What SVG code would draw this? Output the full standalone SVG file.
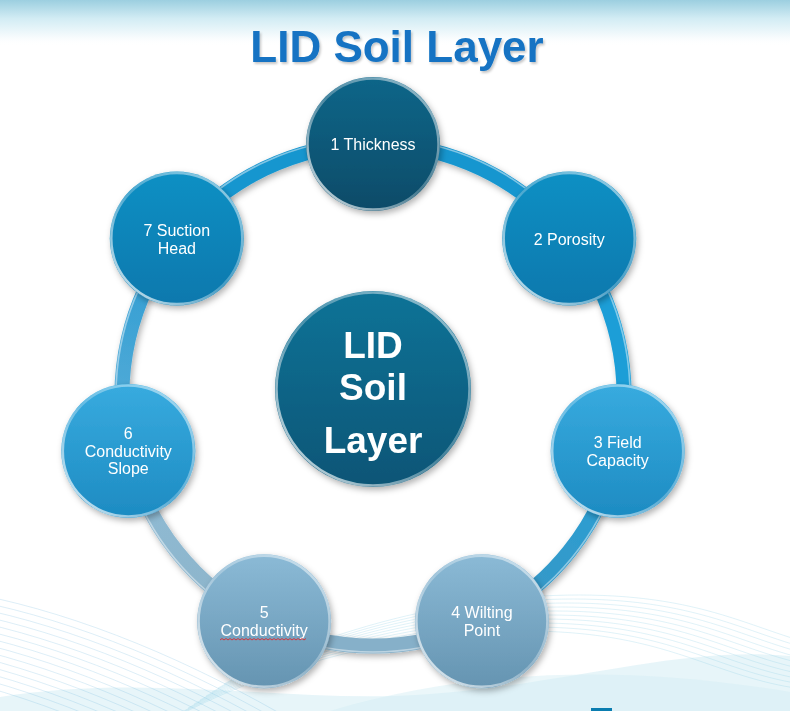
<svg xmlns="http://www.w3.org/2000/svg" xmlns:xlink="http://www.w3.org/1999/xlink" width="790" height="711" viewBox="0 0 790 711">
<defs>
<style>
.title{font-family:"Liberation Sans",Arial,sans-serif;font-weight:bold;font-size:44px;fill:#1473c3;text-anchor:middle}
.lbl{font-family:"Liberation Sans",Arial,sans-serif;font-size:16px;fill:#ffffff;text-anchor:middle}
.ctr{font-family:"Liberation Sans",Arial,sans-serif;font-weight:bold;font-size:37px;fill:#ffffff;text-anchor:middle}
.seg{fill:none;stroke-width:15;stroke-linecap:butt}
.rim{fill:none;stroke:url(#rimG);stroke-width:2.5}
.waveA{fill:none;stroke:#6fb8dd;stroke-width:0.8;opacity:0.3}
.waveB{fill:none;stroke:#8fd0e4;stroke-width:0.8;opacity:0.35}
</style>
<linearGradient id="topBg" x1="0" y1="0" x2="0" y2="1">
<stop offset="0" stop-color="#9ccfe0"/>
<stop offset="0.4" stop-color="#d2ecf4"/>
<stop offset="0.8" stop-color="#f6fbfd"/>
<stop offset="1" stop-color="#ffffff" stop-opacity="0"/>
</linearGradient>
<linearGradient id="g1" x1="0" y1="0" x2="0" y2="1">
<stop offset="0" stop-color="#106689"/>
<stop offset="1" stop-color="#094b68"/>
</linearGradient>
<linearGradient id="g2" x1="0" y1="0" x2="0" y2="1">
<stop offset="0" stop-color="#1190c4"/>
<stop offset="1" stop-color="#0878ad"/>
</linearGradient>
<linearGradient id="g3" x1="0" y1="0" x2="0" y2="1">
<stop offset="0" stop-color="#38abdf"/>
<stop offset="1" stop-color="#1d8bc2"/>
</linearGradient>
<linearGradient id="g4" x1="0" y1="0" x2="0" y2="1">
<stop offset="0" stop-color="#8bbad6"/>
<stop offset="1" stop-color="#6594b1"/>
</linearGradient>
<linearGradient id="gc" x1="0" y1="0" x2="0" y2="1">
<stop offset="0" stop-color="#107397"/>
<stop offset="1" stop-color="#075576"/>
</linearGradient>
<linearGradient id="rimG" x1="0" y1="1" x2="1" y2="0">
<stop offset="0" stop-color="#ffffff" stop-opacity="0.85"/>
<stop offset="0.5" stop-color="#ffffff" stop-opacity="0.25"/>
<stop offset="1" stop-color="#ffffff" stop-opacity="0.6"/>
</linearGradient>
<linearGradient id="s34" gradientUnits="userSpaceOnUse" x1="617.7" y1="450.9" x2="481.9" y2="621.2">
<stop offset="0" stop-color="#27a0d6"/>
<stop offset="1" stop-color="#3a96c3"/>
</linearGradient>
<linearGradient id="s56" gradientUnits="userSpaceOnUse" x1="264.1" y1="621.2" x2="128.3" y2="450.9">
<stop offset="0" stop-color="#8db3c8"/>
<stop offset="1" stop-color="#8fbcd6"/>
</linearGradient>
<linearGradient id="s67" gradientUnits="userSpaceOnUse" x1="128.3" y1="450.9" x2="176.8" y2="238.5">
<stop offset="0" stop-color="#5aaed8"/>
<stop offset="1" stop-color="#2a9bd2"/>
</linearGradient>
<filter id="sh" x="-20%" y="-20%" width="140%" height="140%">
<feDropShadow dx="2" dy="3" stdDeviation="3" flood-color="#000000" flood-opacity="0.3"/>
</filter>
<filter id="tsh" x="-5%" y="-20%" width="110%" height="140%">
<feDropShadow dx="1.5" dy="2" stdDeviation="1.2" flood-color="#000000" flood-opacity="0.22"/>
</filter>
<path id="wa" d="M -20 595 C 80 615, 190 660, 300 725"/>
<path id="wb" d="M 170 720 C 290 655, 440 625, 560 632 S 720 680, 810 690"/>
</defs>

<!-- background -->
<rect x="0" y="0" width="790" height="711" fill="#ffffff"/>
<rect x="0" y="0" width="790" height="46" fill="url(#topBg)"/>
<g id="background-waves">
<path d="M 0 711 L 0 697 C 150 672, 300 705, 430 694 C 570 684, 680 646, 790 656 L 790 711 Z" fill="#c4e6f1" opacity="0.4"/>
<path d="M 330 711 C 450 675, 600 660, 790 692 L 790 711 Z" fill="#d2edf5" opacity="0.45"/>
<use href="#wa" class="waveA" transform="translate(0,0)"/>
<use href="#wa" class="waveA" transform="translate(-4,6)"/>
<use href="#wa" class="waveA" transform="translate(-8,12)"/>
<use href="#wa" class="waveA" transform="translate(-12,18)"/>
<use href="#wa" class="waveA" transform="translate(-16,24)"/>
<use href="#wa" class="waveA" transform="translate(-20,30)"/>
<use href="#wa" class="waveA" transform="translate(-24,36)"/>
<use href="#wa" class="waveA" transform="translate(-28,42)"/>
<use href="#wa" class="waveA" transform="translate(-32,48)"/>
<use href="#wa" class="waveA" transform="translate(-36,54)"/>
<use href="#wa" class="waveA" transform="translate(-40,60)"/>
<use href="#wa" class="waveA" transform="translate(-44,66)"/>
<use href="#wa" class="waveA" transform="translate(-48,72)"/>
<use href="#wa" class="waveA" transform="translate(-52,78)"/>
<use href="#wb" class="waveB" transform="translate(0,0)"/>
<use href="#wb" class="waveB" transform="translate(6,-4)"/>
<use href="#wb" class="waveB" transform="translate(12,-8)"/>
<use href="#wb" class="waveB" transform="translate(18,-12)"/>
<use href="#wb" class="waveB" transform="translate(24,-16)"/>
<use href="#wb" class="waveB" transform="translate(30,-20)"/>
<use href="#wb" class="waveB" transform="translate(36,-24)"/>
<use href="#wb" class="waveB" transform="translate(42,-28)"/>
<use href="#wb" class="waveB" transform="translate(48,-32)"/>
<use href="#wb" class="waveB" transform="translate(54,-36)"/>
</g>
<rect x="591" y="708" width="21" height="3" fill="#0a7db0"/>

<!-- title -->
<text class="title" x="397" y="62" filter="url(#tsh)">LID Soil Layer</text>

<!-- connectors: ring segments -->
<g id="connectors" filter="url(#sh)">
<path class="seg" stroke="#1896cf" d="M 373 144 A 251 251 0 0 1 569.2 238.5"/>
<path class="seg" stroke="#1b9ed7" d="M 569.2 238.5 A 251 251 0 0 1 617.7 450.9"/>
<path class="seg" stroke="url(#s34)" d="M 617.7 450.9 A 251 251 0 0 1 481.9 621.2"/>
<path class="seg" stroke="#86b0c9" d="M 481.9 621.2 A 251 251 0 0 1 264.1 621.2"/>
<path class="seg" stroke="url(#s56)" d="M 264.1 621.2 A 251 251 0 0 1 128.3 450.9"/>
<path class="seg" stroke="url(#s67)" d="M 128.3 450.9 A 251 251 0 0 1 176.8 238.5"/>
<path class="seg" stroke="#1896cf" d="M 176.8 238.5 A 251 251 0 0 1 373 144"/>
<circle cx="373" cy="395" r="257" fill="none" stroke="#ffffff" stroke-width="1.6" opacity="0.45"/>
</g>

<!-- center node -->
<g id="node-center" filter="url(#sh)">
<circle cx="373" cy="389" r="98" fill="url(#gc)"/>
<circle class="rim" cx="373" cy="389" r="96.5"/>
<text class="ctr" x="373" y="358">LID</text>
<text class="ctr" x="373" y="400">Soil</text>
<text class="ctr" x="373" y="453">Layer</text>
</g>

<g id="node-1" filter="url(#sh)">
<circle cx="373" cy="144" r="67" fill="url(#g1)"/>
<circle class="rim" cx="373" cy="144" r="65.5"/>
<text class="lbl" x="373" y="150">1 Thickness</text>
</g>

<g id="node-2" filter="url(#sh)">
<circle cx="569.2" cy="238.5" r="67" fill="url(#g2)"/>
<circle class="rim" cx="569.2" cy="238.5" r="65.5"/>
<text class="lbl" x="569.2" y="244.5">2 Porosity</text>
</g>

<g id="node-3" filter="url(#sh)">
<circle cx="617.7" cy="450.9" r="67" fill="url(#g3)"/>
<circle class="rim" cx="617.7" cy="450.9" r="65.5"/>
<text class="lbl" x="617.7" y="448">3 Field</text>
<text class="lbl" x="617.7" y="465.5">Capacity</text>
</g>

<g id="node-4" filter="url(#sh)">
<circle cx="481.9" cy="621.2" r="67" fill="url(#g4)"/>
<circle class="rim" cx="481.9" cy="621.2" r="65.5"/>
<text class="lbl" x="481.9" y="618">4 Wilting</text>
<text class="lbl" x="481.9" y="635.5">Point</text>
</g>

<g id="node-5" filter="url(#sh)">
<circle cx="264.1" cy="621.2" r="67" fill="url(#g4)"/>
<circle class="rim" cx="264.1" cy="621.2" r="65.5"/>
<text class="lbl" x="264.1" y="618">5</text>
<text class="lbl" x="264.1" y="635.5">Conductivity</text>
<path d="M 220 640 l 2 -1.5 l 2 1.5 l 2 -1.5 l 2 1.5 l 2 -1.5 l 2 1.5 l 2 -1.5 l 2 1.5 l 2 -1.5 l 2 1.5 l 2 -1.5 l 2 1.5 l 2 -1.5 l 2 1.5 l 2 -1.5 l 2 1.5 l 2 -1.5 l 2 1.5 l 2 -1.5 l 2 1.5 l 2 -1.5 l 2 1.5 l 2 -1.5 l 2 1.5 l 2 -1.5 l 2 1.5 l 2 -1.5 l 2 1.5 l 2 -1.5 l 2 1.5 l 2 -1.5 l 2 1.5 l 2 -1.5 l 2 1.5 l 2 -1.5 l 2 1.5 l 2 -1.5 l 2 1.5 l 2 -1.5 l 2 1.5 l 2 -1.5 l 2 1.5 l 2 -1.5" fill="none" stroke="#e0282e" stroke-width="0.9"/>
</g>

<g id="node-6" filter="url(#sh)">
<circle cx="128.3" cy="450.9" r="67" fill="url(#g3)"/>
<circle class="rim" cx="128.3" cy="450.9" r="65.5"/>
<text class="lbl" x="128.3" y="439">6</text>
<text class="lbl" x="128.3" y="456.5">Conductivity</text>
<text class="lbl" x="128.3" y="474">Slope</text>
</g>

<g id="node-7" filter="url(#sh)">
<circle cx="176.8" cy="238.5" r="67" fill="url(#g2)"/>
<circle class="rim" cx="176.8" cy="238.5" r="65.5"/>
<text class="lbl" x="176.8" y="236">7 Suction</text>
<text class="lbl" x="176.8" y="253.5">Head</text>
</g>
</svg>
